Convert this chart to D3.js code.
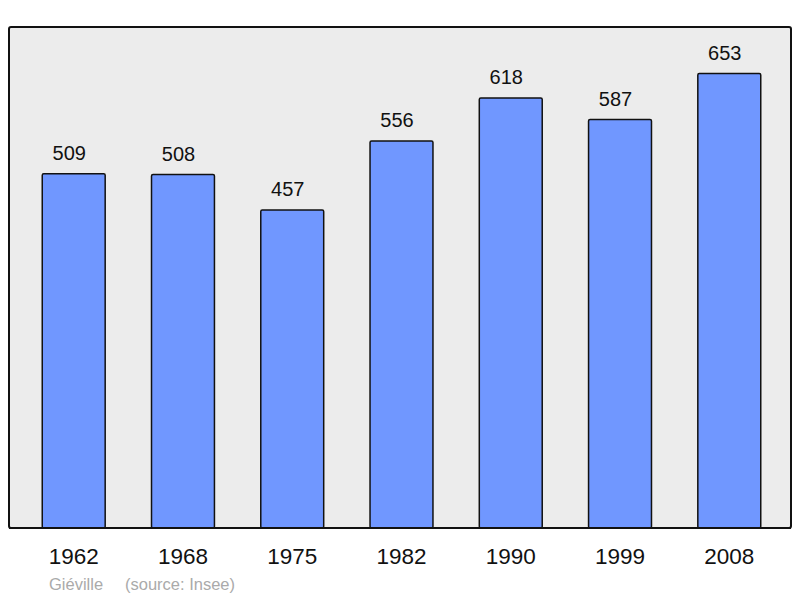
<!DOCTYPE html>
<html>
<head>
<meta charset="utf-8">
<script src="https://cdn.jsdelivr.net/npm/d3@7"></script>
<style>
  body { margin: 0; background: #fff; }
  text { font-family: "Liberation Sans", Arial, sans-serif; }
</style>
</head>
<body>
<div id="wrap"></div>
<script>
var years = ["1962", "1968", "1975", "1982", "1990", "1999", "2008"];
var population = [509, 508, 457, 556, 618, 587, 653];
var place = "Giéville";
var source = "(source: Insee)";

var w = 800;
var h = 598;
var panelL = 9, panelR = 791, panelT = 27, panelB = 528;

var svg = d3.select("#wrap").append("svg").attr("width", w).attr("height", h);

var x = d3.scaleBand().domain(years).range([panelL + 2, panelR + 1])
  .paddingInner(0.424).paddingOuter(0.286);
var y = d3.scaleLinear().domain([0, 720]).range([panelB, panelT]);

svg.append("rect")
  .attr("x", panelL).attr("y", panelT)
  .attr("width", panelR - panelL).attr("height", panelB - panelT)
  .attr("rx", 2)
  .attr("fill", "#ececec").attr("stroke", "#111").attr("stroke-width", 2);

svg.selectAll("rect.bar").data(population).enter().append("rect")
  .attr("class", "bar")
  .attr("x", function(d, i) { return x(years[i]); })
  .attr("y", function(d) { return y(d); })
  .attr("width", x.bandwidth())
  .attr("height", function(d) { return y(0) - y(d); })
  .attr("rx", 1.5)
  .attr("fill", "#7097ff").attr("stroke", "#111").attr("stroke-width", 1.5);

// value labels sit a little left of the bar centre in the original
svg.selectAll("text.val").data(population).enter().append("text")
  .attr("class", "val")
  .attr("x", function(d, i) { return x(years[i]) + x.bandwidth() / 2 - 4.5; })
  .attr("y", function(d) { return y(d) - 14; })
  .attr("text-anchor", "middle")
  .attr("font-size", 20)
  .attr("fill", "#111")
  .text(function(d) { return d; });

// panel bottom line drawn over bars
svg.append("line")
  .attr("x1", panelL).attr("x2", panelR).attr("y1", panelB).attr("y2", panelB)
  .attr("stroke", "#111").attr("stroke-width", 2);

var axis = d3.axisBottom(x).tickSize(0).tickPadding(0);
var g = svg.append("g").attr("transform", "translate(0," + (panelB + 19) + ")").call(axis);
g.select(".domain").remove();
g.selectAll("text")
  .attr("font-size", 22.5)
  .attr("fill", "#111")
  .attr("dy", "0.75em")
  .style("font-family", "'Liberation Sans', Arial, sans-serif");

svg.append("text").attr("x", 49).attr("y", 590)
  .attr("font-size", 16.5).attr("fill", "#aaa").text(place);
svg.append("text").attr("x", 125).attr("y", 590)
  .attr("font-size", 16.5).attr("fill", "#aaa").text(source);
</script>
</body>
</html>
